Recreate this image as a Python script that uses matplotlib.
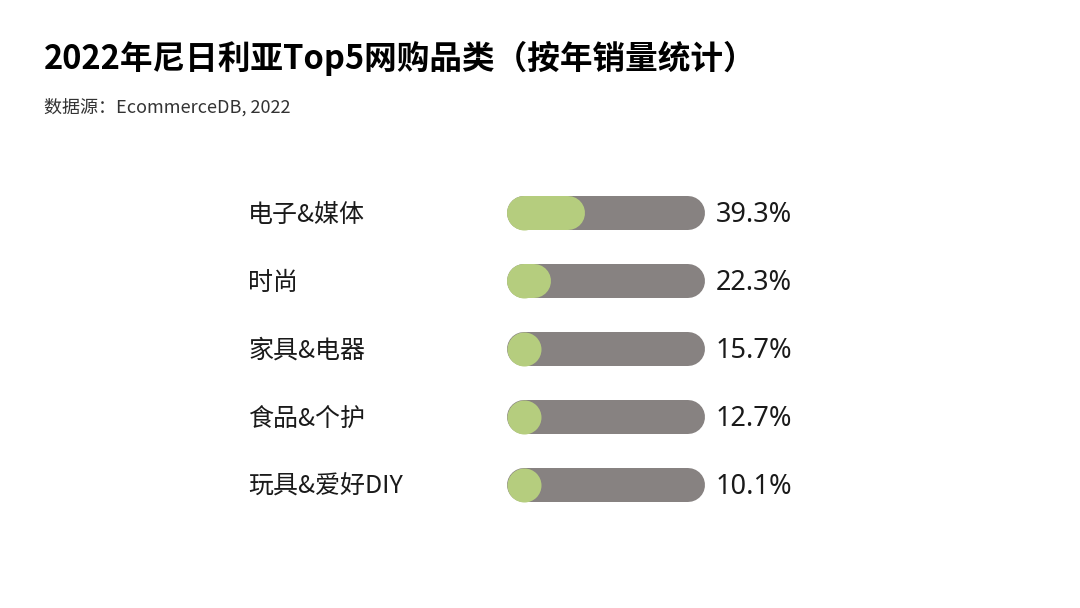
import matplotlib
matplotlib.use("Agg")
import matplotlib.pyplot as plt

plt.rcParams['font.family'] = ['Noto Sans CJK SC', 'DejaVu Sans']

categories = ['电子&媒体', '时尚', '家具&电器', '食品&个护', '玩具&爱好DIY']
shares = [39.3, 22.3, 15.7, 12.7, 10.1]
value_labels = ['39.3%', '22.3%', '15.7%', '12.7%', '10.1%']

title = '2022年尼日利亚Top5网购品类（按年销量统计）'
source = '数据源：EcommerceDB, 2022'

W, H = 1080, 608
fig = plt.figure(figsize=(W / 100, H / 100), dpi=100)
fig.patch.set_facecolor('white')

# axes covering the bar tracks only (x in percent)
ax = fig.add_axes([507 / W, 1 - 519 / H, 198 / W, 340 / H])
ax.set_xlim(0, 100)
ax.set_ylim(len(categories) - 0.5, -0.5)
ax.axis('off')

bar_px = 34
lw = bar_px * 72 / 100  # points
cap = (bar_px / 2) / 1.98  # cap radius in data units

for i, (cat, v, lab) in enumerate(zip(categories, shares, value_labels)):
    ax.plot([cap, 100 - cap], [i, i], color='#878281', lw=lw,
            solid_capstyle='round', zorder=1)
    # green fill: round start cap as a marker, then the bar if long enough
    ax.plot([cap], [i], 'o', ms=lw, color='#b5cd7e', mec='none', zorder=2)
    end = v - cap
    if end > cap:
        ax.plot([cap, end], [i, i], color='#b5cd7e', lw=lw,
                solid_capstyle='round', zorder=2)
    ax.text(-130.8, i + 0.03, cat, ha='left', va='center', fontsize=18,
            color='#1a1a1a', clip_on=False)
    ax.text(105.3, i + 0.03, lab, ha='left', va='center', fontsize=19.5,
            family=['Noto Sans', 'DejaVu Sans'], color='#1a1a1a', clip_on=False)

fig.text(44 / W, 1 - 58 / H, title, ha='left', va='center', fontsize=23.5,
         fontweight='bold', color='#000000')
fig.text(44 / W, 1 - 107 / H, source, ha='left', va='center', fontsize=13,
         color='#333333')

fig.savefig('out.png', dpi=100)
